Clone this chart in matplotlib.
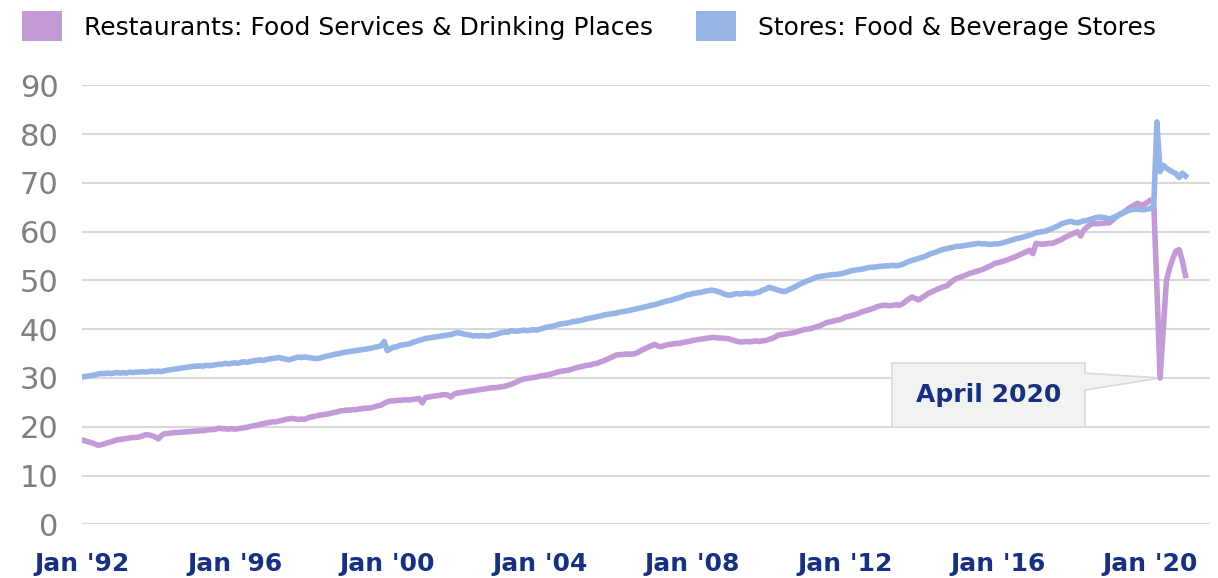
import matplotlib
matplotlib.use("Agg")
import matplotlib.pyplot as plt
from matplotlib.patches import Patch, Polygon
import matplotlib.transforms as mtransforms
import numpy as np

# ---------------- data (monthly, Jan 1992 - Dec 2020, $ billions) ----------------
start_year = 1992
restaurants = [
    17.3, 17.1, 16.9, 16.7, 16.5, 16.2, 16.3, 16.5, 16.7, 16.9, 17.1, 17.3,  # 1992
    17.4, 17.5, 17.6, 17.7, 17.8, 17.8, 17.9, 18.1, 18.4, 18.3, 18.2, 17.9,  # 1993
    17.5, 18.2, 18.6, 18.6, 18.7, 18.8, 18.8, 18.9, 18.9, 19.0, 19.0, 19.1,  # 1994
    19.1, 19.2, 19.2, 19.3, 19.4, 19.4, 19.5, 19.7, 19.6, 19.6, 19.5, 19.6,  # 1995
    19.5, 19.6, 19.7, 19.8, 19.9, 20.1, 20.2, 20.3, 20.5, 20.6, 20.8, 20.9,  # 1996
    21.0, 21.0, 21.2, 21.3, 21.5, 21.6, 21.7, 21.6, 21.5, 21.6, 21.5, 21.8,  # 1997
    22.0, 22.1, 22.3, 22.4, 22.5, 22.6, 22.7, 22.9, 23.0, 23.2, 23.3, 23.4,  # 1998
    23.4, 23.5, 23.5, 23.6, 23.7, 23.8, 23.8, 23.9, 24.1, 24.3, 24.4, 24.8,  # 1999
    25.1, 25.3, 25.3, 25.4, 25.4, 25.5, 25.5, 25.5, 25.6, 25.7, 25.8, 24.9,  # 2000
    26.0, 26.1, 26.2, 26.3, 26.4, 26.5, 26.6, 26.5, 26.1, 26.7, 26.9, 27.0,  # 2001
    27.1, 27.2, 27.3, 27.4, 27.5, 27.6, 27.7, 27.8, 27.9, 28.0, 28.0, 28.1,  # 2002
    28.2, 28.3, 28.5, 28.7, 29.0, 29.3, 29.6, 29.8, 29.9, 30.0, 30.1, 30.2,  # 2003
    30.4, 30.5, 30.6, 30.7, 30.9, 31.1, 31.3, 31.4, 31.5, 31.6, 31.8, 32.0,  # 2004
    32.2, 32.3, 32.5, 32.6, 32.7, 32.9, 33.0, 33.3, 33.5, 33.8, 34.1, 34.4,  # 2005
    34.7, 34.8, 34.8, 34.9, 34.9, 34.9, 35.0, 35.3, 35.7, 36.0, 36.3, 36.6,  # 2006
    36.9, 36.6, 36.4, 36.6, 36.8, 36.9, 37.0, 37.1, 37.1, 37.3, 37.4, 37.5,  # 2007
    37.7, 37.8, 37.9, 38.0, 38.1, 38.2, 38.3, 38.3, 38.2, 38.2, 38.1, 38.1,  # 2008
    37.9, 37.7, 37.5, 37.4, 37.4, 37.5, 37.4, 37.5, 37.6, 37.5, 37.6, 37.7,  # 2009
    37.9, 38.1, 38.4, 38.8, 38.9, 39.0, 39.1, 39.2, 39.3, 39.5, 39.7, 39.9,  # 2010
    40.0, 40.1, 40.3, 40.5, 40.7, 41.0, 41.3, 41.5, 41.6, 41.8, 41.9, 42.1,  # 2011
    42.5, 42.6, 42.8, 43.0, 43.2, 43.5, 43.7, 43.9, 44.1, 44.3, 44.6, 44.8,  # 2012
    44.9, 44.9, 44.8, 44.9, 45.0, 44.9, 45.2, 45.7, 46.2, 46.6, 46.3, 46.0,  # 2013
    46.4, 46.8, 47.3, 47.6, 47.9, 48.2, 48.5, 48.7, 48.9, 49.5, 50.0, 50.4,  # 2014
    50.6, 50.9, 51.1, 51.4, 51.6, 51.8, 52.0, 52.2, 52.5, 52.8, 53.1, 53.5,  # 2015
    53.6, 53.8, 54.0, 54.2, 54.5, 54.7, 55.0, 55.3, 55.6, 55.9, 56.2, 55.5,  # 2016
    57.6, 57.5, 57.4, 57.5, 57.6, 57.6, 57.8, 58.1, 58.4, 58.8, 59.1, 59.4,  # 2017
    59.7, 60.0, 59.1, 60.3, 60.9, 61.4, 61.7, 61.6, 61.7, 61.7, 61.8, 61.8,  # 2018
    62.3, 62.9, 63.4, 63.8, 64.2, 64.7, 65.1, 65.5, 65.8, 65.4, 65.6, 66.0,  # 2019
    66.5, 66.0, 48.5, 30.0, 40.0, 50.0, 52.5, 54.5, 56.0, 56.3, 54.0, 51.0,  # 2020
]
stores = [
    30.2, 30.3, 30.4, 30.5, 30.6, 30.8, 30.9, 30.9, 31.0, 30.9, 31.0, 31.1,  # 1992
    31.0, 31.1, 31.0, 31.2, 31.1, 31.2, 31.2, 31.3, 31.2, 31.3, 31.4, 31.3,  # 1993
    31.4, 31.3, 31.5, 31.6, 31.7, 31.8, 31.9, 32.0, 32.1, 32.2, 32.3, 32.4,  # 1994
    32.4, 32.5, 32.4, 32.6, 32.5, 32.6, 32.7, 32.8, 32.8, 33.0, 32.9, 33.0,  # 1995
    33.1, 33.0, 33.2, 33.3, 33.2, 33.4, 33.5, 33.6, 33.7, 33.6, 33.8, 33.9,  # 1996
    34.0, 34.1, 34.2, 34.0, 33.9, 33.7, 33.9, 34.1, 34.3, 34.2, 34.3, 34.2,  # 1997
    34.1, 34.0, 34.0, 34.1, 34.3, 34.5, 34.6, 34.8, 34.9, 35.0, 35.2, 35.3,  # 1998
    35.4, 35.5, 35.6, 35.7, 35.8, 35.9, 36.0, 36.1, 36.3, 36.4, 36.6, 37.5,  # 1999
    35.6, 36.0, 36.3, 36.4, 36.7, 36.8, 36.9, 37.0, 37.3, 37.5, 37.7, 37.9,  # 2000
    38.1, 38.2, 38.3, 38.4, 38.5, 38.6, 38.7, 38.8, 38.9, 39.1, 39.3, 39.2,  # 2001
    39.0, 38.9, 38.8, 38.6, 38.7, 38.6, 38.7, 38.6, 38.6, 38.8, 38.9, 39.1,  # 2002
    39.3, 39.4, 39.4, 39.7, 39.6, 39.6, 39.7, 39.8, 39.7, 39.8, 39.9, 39.8,  # 2003
    40.0, 40.2, 40.4, 40.5, 40.6, 40.8, 41.0, 41.1, 41.2, 41.3, 41.5, 41.6,  # 2004
    41.7, 41.8, 42.0, 42.2, 42.3, 42.4, 42.6, 42.7, 42.9, 43.0, 43.1, 43.2,  # 2005
    43.3, 43.5, 43.6, 43.7, 43.8, 44.0, 44.1, 44.3, 44.4, 44.6, 44.7, 44.9,  # 2006
    45.0, 45.2, 45.4, 45.6, 45.8, 45.9, 46.1, 46.3, 46.5, 46.7, 47.0, 47.1,  # 2007
    47.3, 47.4, 47.5, 47.6, 47.8, 47.9, 48.0, 47.9, 47.7, 47.5, 47.2, 47.0,  # 2008
    47.0, 47.2, 47.3, 47.2, 47.3, 47.4, 47.3, 47.3, 47.5, 47.6, 48.0, 48.2,  # 2009
    48.6, 48.4, 48.2, 48.0, 47.8, 47.7, 48.0, 48.3, 48.6, 49.0, 49.3, 49.6,  # 2010
    49.9, 50.1, 50.4, 50.7, 50.8, 50.9, 51.0, 51.1, 51.2, 51.2, 51.3, 51.4,  # 2011
    51.6, 51.8, 52.0, 52.1, 52.2, 52.3, 52.4, 52.6, 52.7, 52.7, 52.8, 52.9,  # 2012
    52.9, 53.0, 53.0, 53.1, 53.0, 53.1, 53.3, 53.6, 53.9, 54.1, 54.3, 54.5,  # 2013
    54.7, 54.9, 55.2, 55.5, 55.7, 55.9, 56.2, 56.4, 56.5, 56.7, 56.8, 57.0,  # 2014
    57.0, 57.1, 57.2, 57.3, 57.4, 57.5, 57.6, 57.5, 57.5, 57.4, 57.4, 57.5,  # 2015
    57.5, 57.6, 57.8, 58.0, 58.2, 58.4, 58.6, 58.7, 58.9, 59.1, 59.3, 59.5,  # 2016
    59.8, 59.9, 60.0, 60.1, 60.4, 60.6, 60.9, 61.2, 61.6, 61.8, 62.0, 62.1,  # 2017
    61.9, 61.8, 62.0, 62.2, 62.3, 62.5, 62.7, 62.9, 63.0, 62.9, 62.8, 62.6,  # 2018
    62.8, 63.1, 63.4, 63.7, 64.0, 64.3, 64.5, 64.6, 64.6, 64.5, 64.5, 64.6,  # 2019
    64.8, 65.2, 82.5, 72.3, 73.6, 73.0, 72.6, 72.2, 71.9, 71.1, 72.0, 71.4,  # 2020
]
series_labels = ["Restaurants: Food Services & Drinking Places",
                 "Stores: Food & Beverage Stores"]
x_tick_labels = ["Jan '92", "Jan '96", "Jan '00", "Jan '04",
                 "Jan '08", "Jan '12", "Jan '16", "Jan '20"]
y_ticks = [0, 10, 20, 30, 40, 50, 60, 70, 80, 90]
annotation_text = "April 2020"
annotation_year, annotation_month = 2020, 4

# ---------------- styling ----------------
purple = "#C29AD6"
blue = "#96B4E6"
navy = "#17307F"
grey_text = "#7F7F7F"
grid_col = "#D9D9D9"

fig = plt.figure(figsize=(12.18, 5.78), dpi=100)
ax = fig.add_axes([82 / 1218, 1 - 524.3 / 578, (1210 - 82) / 1218, (524.3 - 85.3) / 578])

months = np.arange(len(restaurants))
ax.plot(months, restaurants, color=purple, lw=4.0, solid_joinstyle="round", zorder=3)
ax.plot(months, stores, color=blue, lw=4.0, solid_joinstyle="round", zorder=3)

ax.set_ylim(0, 90)
ax.set_xlim(0, 354.7)
ax.set_yticks(y_ticks)
ax.set_yticklabels([str(v) for v in y_ticks], color=grey_text, fontsize=22)


def label_year(lbl):
    yy = int(lbl[-2:])
    return 1900 + yy if yy > 50 else 2000 + yy


tick_pos = [12 * (label_year(l) - start_year) for l in x_tick_labels]
ax.set_xticks(tick_pos)
ax.set_xticklabels(x_tick_labels, color=navy, fontsize=18, fontweight="bold")
offset = mtransforms.ScaledTranslation(4 / 100, 0, fig.dpi_scale_trans)
for lbl in ax.get_xticklabels():
    lbl.set_transform(lbl.get_transform() + offset)
ax.tick_params(axis="both", length=0)
ax.tick_params(axis="y", pad=17)
ax.tick_params(axis="x", pad=20)
ax.grid(axis="y", color=grid_col, lw=1.5)
ax.set_axisbelow(True)
for s in ax.spines.values():
    s.set_visible(False)

# ---------------- callout ----------------
am = (annotation_year - start_year) * 12 + (annotation_month - 1)
av = restaurants[am]
bx0, bx1 = am - 84.3, am - 23.6
by0, by1 = av - 10.1, av + 3.05
w_hi, w_lo = av + 1.0, av - 2.5
poly = Polygon([(bx0, by0), (bx1, by0), (bx1, w_lo), (am, av), (bx1, w_hi), (bx1, by1), (bx0, by1)],
               closed=True, facecolor="#F2F2F2", edgecolor=grid_col, lw=1.2, zorder=2)
ax.add_patch(poly)
ax.text((bx0 + bx1) / 2, (by0 + by1) / 2, annotation_text, color=navy, fontsize=18,
        fontweight="bold", ha="center", va="center", zorder=4)

# ---------------- legend ----------------
handles = [Patch(facecolor=purple, edgecolor="none"), Patch(facecolor=blue, edgecolor="none")]
fig.legend(handles, series_labels, loc="upper left", bbox_to_anchor=(9 / 1218, 1 + 1 / 578), ncol=2,
           frameon=False, fontsize=18, handlelength=1.6, handleheight=1.44,
           handletextpad=0.92, columnspacing=1.68, borderpad=0.0, labelcolor="#000000")

fig.savefig("out.png", dpi=100)
